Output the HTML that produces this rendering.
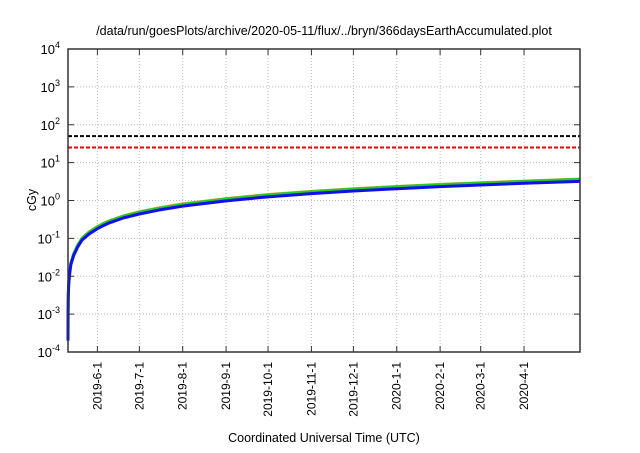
<!DOCTYPE html>
<html><head><meta charset="utf-8"><style>
body{margin:0;background:#fff;width:640px;height:448px;overflow:hidden}
svg{font-family:"Liberation Sans",sans-serif}
</style></head><body>
<svg id="chart" width="640" height="448">
<text x="324" y="35" text-anchor="middle" font-size="12.5">/data/run/goesPlots/archive/2020-05-11/flux/../bryn/366daysEarthAccumulated.plot</text>
<text x="324" y="442" text-anchor="middle" font-size="12.5">Coordinated Universal Time (UTC)</text>
<text transform="translate(36,200) rotate(-90)" text-anchor="middle" font-size="12.5">cGy</text>
<g id="grid"></g><g id="ref"></g><g id="series"></g><g id="axes"></g>
</svg>
<script>
const yExps=[-4,-3,-2,-1,0,1,2,3,4];
const tickLabels=["2019-6-1","2019-7-1","2019-8-1","2019-9-1","2019-10-1","2019-11-1","2019-12-1","2020-1-1","2020-2-1","2020-3-1","2020-4-1"];
const tickDays=[21,51,82,113,143,174,204,235,266,295,326];
const days=[0,0.05,0.2,0.5,1,2,4,7,10,15,21,25,30,40,51,65,82,113,143,174,204,235,266,295,326,366];
const blueVals=[0.0002,0.001,0.003,0.006,0.01,0.02,0.035,0.06,0.09,0.13,0.18,0.215,0.26,0.35,0.44,0.56,0.71,0.98,1.25,1.52,1.78,2.05,2.32,2.57,2.85,3.2];
const greenVals=[0.0002,0.0011,0.0034,0.0068,0.011,0.022,0.039,0.067,0.1,0.145,0.2,0.24,0.29,0.39,0.49,0.62,0.79,1.1,1.4,1.7,1.99,2.3,2.6,2.88,3.19,3.6];
const redVals=[0.0002,0.0012,0.0036,0.0071,0.012,0.024,0.041,0.071,0.106,0.153,0.212,0.255,0.307,0.41,0.52,0.66,0.84,1.16,1.48,1.8,2.1,2.42,2.74,3.03,3.36,3.8];
const refVals=[50,25];
const refColors=["#000","#e00"];
const L=68,R=580,T=49,B=352,D0=0,D1=366;
const x=d=>L+(d-D0)/(D1-D0)*(R-L);
const y=v=>T+(4-Math.log10(v))/8*(B-T);
const NS="http://www.w3.org/2000/svg";
function mk(tag,parent,attrs){const e=document.createElementNS(NS,tag);for(const k in attrs)e.setAttribute(k,attrs[k]);parent.appendChild(e);return e;}
const grid=document.getElementById('grid'),axes=document.getElementById('axes'),ser=document.getElementById('series'),ref=document.getElementById('ref');
yExps.forEach(p=>{const yy=y(Math.pow(10,p));
 if(p>-4&&p<4){const g=mk('line',grid,{x1:L,x2:R,y1:yy,y2:yy,stroke:'#bbb','stroke-dasharray':'1,2','stroke-width':1});
 
 }
 const t=mk('line',axes,{x1:L,x2:L+6,y1:yy,y2:yy,stroke:'#333'});
 
 
 mk('line',axes,{x1:R-6,x2:R,y1:yy,y2:yy,stroke:'#333'});
 const tx=mk('text',axes,{x:L-8,y:yy+5,'text-anchor':'end','font-size':13});
 
 
 tx.innerHTML='10<tspan dy="-6" font-size="9">'+p+'</tspan>';
});
tickDays.forEach((d,i)=>{const xx=x(d);
 const g=mk('line',grid,{x1:xx,x2:xx,y1:T,y2:B,stroke:'#bbb','stroke-dasharray':'1,2'});
 
 
 mk('line',axes,{x1:xx,x2:xx,y1:B,y2:B-6,stroke:'#333'});
 mk('line',axes,{x1:xx,x2:xx,y1:T,y2:T+6,stroke:'#333'});
 const t=mk('text',axes,{transform:`translate(${xx+4},${B+10}) rotate(-90)`,'text-anchor':'end','font-size':12});
 
 
 t.textContent=tickLabels[i];
});
refVals.forEach((v,i)=>{const l=mk('line',ref,{x1:L,x2:R,y1:y(v),y2:y(v),stroke:refColors[i],'stroke-width':2,'stroke-dasharray':'4,2'});
 
 });
function line(vals,color,w,name){const p=mk('polyline',ser,{points:days.map((d,i)=>x(d)+','+y(vals[i])).join(' '),fill:'none',stroke:color,'stroke-width':w,'stroke-linejoin':'round'});
 
 }
line(redVals,'#e8a040',2,'series-red');
line(greenVals,'#22cc22',3,'series-green');
line(blueVals,'#1010ee',3,'series-blue');
const fr=mk('rect',axes,{x:L,y:T,width:R-L,height:B-T,fill:'none',stroke:'#333','stroke-width':1.5});


</script>
</body></html>
